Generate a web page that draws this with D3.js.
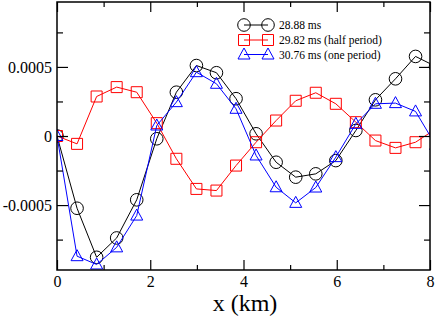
<!DOCTYPE html>
<html>
<head>
<meta charset="utf-8">
<script src="https://cdn.jsdelivr.net/npm/d3@7"></script>
<style>
  html, body { margin: 0; padding: 0; background: #ffffff; }
  svg { display: block; }
  text { font-family: "Liberation Serif", "DejaVu Serif", serif; fill: #000; }
</style>
</head>
<body>
<div id="chart"></div>
<script>
// sample positions along the line (km)
const xKm = [0, 0.43, 0.85, 1.28, 1.71, 2.14, 2.56, 2.99, 3.42, 3.84,
             4.27, 4.70, 5.12, 5.55, 5.98, 6.41, 6.83, 7.26, 7.69, 8.12];

// displacement at 28.88 ms
const series2888 = [0, -0.000523, -0.000878, -0.000738, -0.000462, -0.00002, 0.000317, 0.00051, 0.000458, 0.00027,
                    0.000016, -0.00019, -0.000298, -0.000274, -0.000178, 0.00004, 0.000262, 0.000414, 0.000576, 0.000504];
// 29.82 ms (half period)
const series2982 = [0, -0.000057, 0.000286, 0.000354, 0.000317, 0.000093, -0.000165, -0.000383, -0.000395, -0.000214,
                    -0.000045, 0.000112, 0.000255, 0.000313, 0.000233, 0.0001, -0.000033, -0.000086, -0.000045, 0.00005];
// 30.76 ms (one period)
const series3076 = [0, -0.00087, -0.00093, -0.000806, -0.000576, 0.000076, 0.000245, 0.000462, 0.000378, 0.000197,
                    -0.000141, -0.000371, -0.000484, -0.000373, -0.000153, 0.000088, 0.000233, 0.000238, 0.000178, -0.000065];

const legendLabels = ['28.88 ms', '29.82 ms (half period)', '30.76 ms (one period)'];
const xTicks = [0, 2, 4, 6, 8];
const xMinorTicks = [1, 3, 5, 7];
const yTicks = [-0.0005, 0, 0.0005];
const yMinorTicks = [-0.00075, -0.00025, 0.00025, 0.00075];

const width = 436, height = 318;
const plotLeft = 57, plotRight = 430, plotTop = 2, plotBottom = 270;

const x = d3.scaleLinear().domain([0, 8]).range([plotLeft, plotRight]);
const y = d3.scaleLinear().domain([-0.00097, 0.00097]).range([plotBottom, plotTop]);

const svg = d3.select('#chart').append('svg')
  .attr('width', width)
  .attr('height', height);

svg.append('clipPath').attr('id', 'plotClip')
  .append('rect')
  .attr('x', plotLeft).attr('y', plotTop)
  .attr('width', plotRight - plotLeft).attr('height', plotBottom - plotTop);

// marker shapes
function circlePath(cx, cy) {
  const p = d3.path();
  p.moveTo(cx + 6.3, cy);
  p.arc(cx, cy, 6.3, 0, 2 * Math.PI);
  return p.toString();
}
function squarePath(cx, cy) {
  const h = 5.5;
  return `M${cx - h},${cy - h}H${cx + h}V${cy + h}H${cx - h}Z`;
}
function trianglePath(cx, cy) {
  return `M${cx},${cy - 6.5}L${cx + 6},${cy + 4.5}L${cx - 6},${cy + 4.5}Z`;
}

const seriesList = [
  { values: series2888, color: '#000000', marker: circlePath },
  { values: series2982, color: '#ff0000', marker: squarePath },
  { values: series3076, color: '#0000ff', marker: trianglePath }
];

const plot = svg.append('g').attr('clip-path', 'url(#plotClip)');

const line = d3.line()
  .x(d => x(d[0]))
  .y(d => y(d[1]));

seriesList.forEach(s => {
  const pts = xKm.map((v, i) => [v, s.values[i]]);
  plot.append('path')
    .datum(pts)
    .attr('fill', 'none')
    .attr('stroke', s.color)
    .attr('stroke-width', 1)
    .attr('d', line);
  plot.append('g')
    .selectAll('path')
    .data(pts)
    .join('path')
    .attr('d', d => s.marker(x(d[0]), y(d[1])))
    .attr('fill', 'none')
    .attr('stroke', s.color)
    .attr('stroke-width', 1);
});

// axes: ticks pointing inward, mirrored on top and right
const axisG = svg.append('g');

function addXAxis(yPos, dir, withLabels) {
  const g = axisG.append('g').attr('transform', `translate(0,${yPos})`);
  const ax = (dir > 0 ? d3.axisBottom(x) : d3.axisTop(x))
    .tickValues(xTicks)
    .tickSize(-10)
    .tickPadding(6)
    .tickFormat(withLabels ? d3.format('d') : '');
  g.call(ax);
  const minor = (dir > 0 ? d3.axisBottom(x) : d3.axisTop(x))
    .tickValues(xMinorTicks).tickSize(-5).tickFormat('');
  axisG.append('g').attr('transform', `translate(0,${yPos})`).call(minor);
  return g;
}

function addYAxis(xPos, dir, withLabels) {
  const g = axisG.append('g').attr('transform', `translate(${xPos},0)`);
  const ax = (dir < 0 ? d3.axisLeft(y) : d3.axisRight(y))
    .tickValues(yTicks)
    .tickSize(-11)
    .tickPadding(5)
    .tickFormat(withLabels ? (d => d === 0 ? '0' : d3.format('.4f')(d).replace('\u2212', '-')) : '');
  g.call(ax);
  const minor = (dir < 0 ? d3.axisLeft(y) : d3.axisRight(y))
    .tickValues(yMinorTicks).tickSize(-6).tickFormat('');
  axisG.append('g').attr('transform', `translate(${xPos},0)`).call(minor);
  return g;
}

addXAxis(plotBottom, 1, true);
addXAxis(plotTop, -1, false);
addYAxis(plotLeft, -1, true);
addYAxis(plotRight, 1, false);

axisG.selectAll('.domain').remove();
axisG.selectAll('line').attr('stroke', '#000').attr('stroke-width', 1.2);
axisG.selectAll('text')
  .style('font-family', '"Liberation Serif", serif')
  .style('font-size', '16px')
  .attr('fill', '#000');

// frame
svg.append('rect')
  .attr('x', plotLeft).attr('y', plotTop)
  .attr('width', plotRight - plotLeft).attr('height', plotBottom - plotTop)
  .attr('fill', 'none')
  .attr('stroke', '#000')
  .attr('stroke-width', 1.5);

// axis title
svg.append('text')
  .attr('x', 245)
  .attr('y', 311)
  .attr('text-anchor', 'middle')
  .style('font-size', '24px')
  .text('x (km)');

// legend
const legend = svg.append('g');
const legendY = [25, 40, 54.5];
seriesList.forEach((s, i) => {
  const ly = legendY[i];
  legend.append('line')
    .attr('x1', 244).attr('x2', 268)
    .attr('y1', ly).attr('y2', ly)
    .attr('stroke', s.color).attr('stroke-width', 1);
  [244, 268].forEach(lx => {
    legend.append('path')
      .attr('d', s.marker(lx, ly))
      .attr('fill', 'none')
      .attr('stroke', s.color)
      .attr('stroke-width', 1);
  });
  legend.append('text')
    .attr('x', 279)
    .attr('y', ly + 4)
    .style('font-size', '11.5px')
    .text(legendLabels[i]);
});
</script>
</body>
</html>
